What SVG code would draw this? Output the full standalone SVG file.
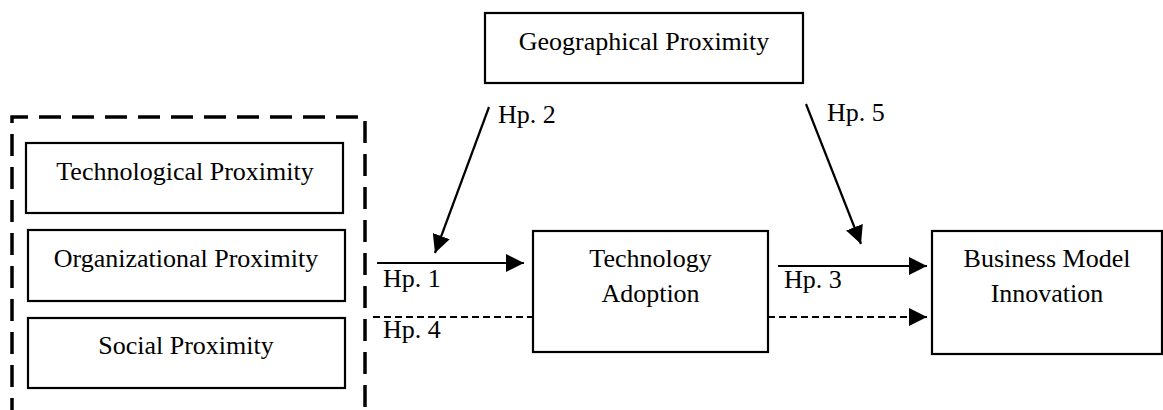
<svg xmlns="http://www.w3.org/2000/svg" width="1163" height="410" viewBox="0 0 1163 410">
<style>
.box{fill:#fff;stroke:#000;stroke-width:2.2}
.t{font-family:"Liberation Serif","Times New Roman",serif;font-size:26px;fill:#000}
.c{text-anchor:middle}
.ln{stroke:#000;stroke-width:2.2;fill:none}
.dl{stroke:#000;stroke-width:2.2;fill:none;stroke-dasharray:7 4}
</style>
<defs>
<marker id="ah" markerUnits="userSpaceOnUse" markerWidth="18" markerHeight="18" viewBox="0 0 16 16" refX="16" refY="8" orient="auto">
<path d="M0,0 L16,8 L0,16 Z" fill="#000"/>
</marker>
</defs>
<rect width="1163" height="410" fill="#fff"/>
<g id="group-frame">
<path d="M12,420 L12,117 L365,117 L365,420" fill="none" stroke="#000" stroke-width="3.5" stroke-dasharray="22 11"/>
</g>
<g id="geo">
<rect class="box" x="485" y="13" width="318" height="70"/>
<text class="t c" x="644" y="50">Geographical Proximity</text>
</g>
<g id="tech">
<rect class="box" x="26" y="143" width="317" height="70"/>
<text class="t c" x="185" y="180">Technological Proximity</text>
</g>
<g id="org">
<rect class="box" x="28" y="230" width="317" height="71"/>
<text class="t c" x="186" y="267">Organizational Proximity</text>
</g>
<g id="social">
<rect class="box" x="28" y="318" width="317" height="70"/>
<text class="t c" x="186" y="354">Social Proximity</text>
</g>
<g id="adoption">
<rect class="box" x="533" y="231" width="235" height="121"/>
<text class="t c" x="650.5" y="267">Technology</text>
<text class="t c" x="650.5" y="302">Adoption</text>
</g>
<g id="bmi">
<rect class="box" x="932" y="231" width="230" height="123"/>
<text class="t c" x="1047" y="267">Business Model</text>
<text class="t c" x="1047" y="302">Innovation</text>
</g>
<g id="connectors">
<line class="ln" x1="377" y1="263" x2="524" y2="263" marker-end="url(#ah)"/>
<line class="dl" x1="373" y1="317" x2="533" y2="317"/>
<line class="ln" x1="778" y1="266" x2="927" y2="266" marker-end="url(#ah)"/>
<line class="dl" x1="768" y1="317" x2="927" y2="317" marker-end="url(#ah)"/>
<line class="ln" x1="489" y1="107" x2="435" y2="253" marker-end="url(#ah)"/>
<line class="ln" x1="806" y1="104" x2="861" y2="244" marker-end="url(#ah)"/>
<text class="t" x="383" y="287">Hp. 1</text>
<text class="t" x="383" y="338">Hp. 4</text>
<text class="t" x="784" y="288">Hp. 3</text>
<text class="t" x="498" y="123">Hp. 2</text>
<text class="t" x="827" y="121">Hp. 5</text>
</g>
</svg>
